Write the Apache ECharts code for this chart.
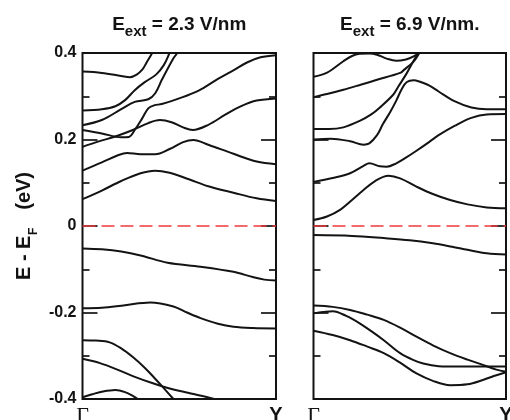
<!DOCTYPE html>
<html>
<head>
<meta charset="utf-8">
<script src="https://cdn.jsdelivr.net/npm/echarts@6/dist/echarts.min.js"></script>
<style>
html,body{margin:0;padding:0;background:#fff;}
#chart{width:510px;height:420px;}
</style>
</head>
<body>
<div id="chart"></div>
<script>
// ---- labels ----
const kPathLabels = ['Γ', 'Y'];
const yTickLabels = ['-0.4', '-0.2', '0', '0.2', '0.4'];
const panelFields = ['2.3 V/nm', '6.9 V/nm.'];
const yAxisTitle = ['E - E', 'F', '(eV)'];

// ---- panel 1 : E_ext = 2.3 V/nm  (k from Γ=0 to Y=1, energy in eV) ----
const p1_v5 = [[0,-0.396],[0.05,-0.389],[0.1,-0.383],[0.17,-0.379],[0.22,-0.384],[0.26,-0.393],[0.29,-0.402],[0.31,-0.41]];
const p1_v4 = [[0,-0.307],[0.09,-0.317],[0.18,-0.332],[0.26,-0.347],[0.36,-0.363],[0.47,-0.378],[0.55,-0.386],[0.62,-0.393],[0.68,-0.4],[0.72,-0.405]];
const p1_v3 = [[0,-0.264],[0.07,-0.265],[0.14,-0.269],[0.2,-0.283],[0.26,-0.303],[0.32,-0.327],[0.365,-0.348],[0.42,-0.375],[0.47,-0.4],[0.5,-0.415]];
const p1_v2 = [[0,-0.19],[0.1,-0.189],[0.22,-0.183],[0.35,-0.177],[0.47,-0.186],[0.54,-0.2],[0.61,-0.213],[0.7,-0.226],[0.78,-0.233],[0.88,-0.236],[1,-0.237]];
const p1_v1 = [[0,-0.052],[0.1,-0.054],[0.2,-0.059],[0.3,-0.068],[0.44,-0.085],[0.61,-0.094],[0.78,-0.106],[0.88,-0.118],[0.94,-0.124],[1,-0.126]];
const p1_c1 = [[0,0.062],[0.1,0.082],[0.2,0.104],[0.3,0.122],[0.375,0.128],[0.45,0.123],[0.55,0.108],[0.65,0.092],[0.78,0.077],[0.9,0.064],[1,0.058]];
const p1_c2 = [[0,0.128],[0.1,0.147],[0.18,0.163],[0.23,0.169],[0.3,0.166],[0.375,0.166],[0.45,0.178],[0.52,0.194],[0.573,0.199],[0.65,0.188],[0.78,0.167],[0.9,0.149],[1,0.143]];
const p1_c3 = [[0,0.183],[0.08,0.195],[0.17,0.207],[0.26,0.222],[0.34,0.238],[0.4,0.245],[0.46,0.24],[0.52,0.228],[0.57,0.222],[0.65,0.234],[0.74,0.258],[0.82,0.277],[0.9,0.29],[1,0.295]];
const p1_c4 = [[0,0.222],[0.1,0.214],[0.2,0.205],[0.24,0.206],[0.27,0.222],[0.31,0.25],[0.34,0.272],[0.37,0.279],[0.41,0.282],[0.5,0.295],[0.6,0.313],[0.7,0.34],[0.78,0.36],[0.85,0.378],[0.92,0.39],[1,0.395]];
const p1_c5 = [[0,0.233],[0.1,0.245],[0.2,0.27],[0.27,0.287],[0.34,0.293],[0.376,0.307],[0.41,0.338],[0.47,0.388],[0.49,0.4],[0.51,0.415]];
const p1_c6 = [[0,0.267],[0.1,0.27],[0.17,0.277],[0.22,0.291],[0.27,0.314],[0.32,0.332],[0.38,0.35],[0.42,0.372],[0.45,0.4],[0.47,0.42]];
const p1_c7 = [[0,0.357],[0.1,0.354],[0.2,0.347],[0.245,0.344],[0.28,0.35],[0.31,0.362],[0.33,0.377],[0.36,0.4],[0.38,0.42]];

// ---- panel 2 : E_ext = 6.9 V/nm ----
const p2_v4 = [[0,-0.242],[0.1,-0.252],[0.19,-0.264],[0.28,-0.279],[0.365,-0.294],[0.45,-0.316],[0.535,-0.341],[0.62,-0.358],[0.71,-0.368],[0.8,-0.366],[0.88,-0.356],[0.95,-0.345],[1,-0.338]];
const p2_v3 = [[0,-0.202],[0.05,-0.199],[0.1,-0.197],[0.17,-0.208],[0.24,-0.225],[0.3,-0.243],[0.365,-0.264],[0.45,-0.294],[0.52,-0.31],[0.57,-0.318],[0.65,-0.324],[0.75,-0.325],[0.87,-0.325],[1,-0.325]];
const p2_v2 = [[0,-0.184],[0.1,-0.187],[0.19,-0.194],[0.28,-0.205],[0.365,-0.217],[0.45,-0.235],[0.535,-0.256],[0.62,-0.276],[0.71,-0.294],[0.8,-0.309],[0.88,-0.321],[0.95,-0.332],[1,-0.337]];
const p2_v1 = [[0,-0.021],[0.2,-0.023],[0.365,-0.028],[0.5,-0.033],[0.62,-0.04],[0.72,-0.048],[0.8,-0.055],[0.9,-0.063],[1,-0.066]];
const p2_c1 = [[0,0.014],[0.07,0.022],[0.14,0.038],[0.2,0.06],[0.26,0.083],[0.32,0.104],[0.39,0.116],[0.45,0.11],[0.535,0.091],[0.62,0.074],[0.71,0.06],[0.8,0.05],[0.9,0.043],[1,0.041]];
const p2_c2 = [[0,0.102],[0.1,0.111],[0.19,0.122],[0.26,0.139],[0.29,0.145],[0.345,0.138],[0.38,0.137],[0.43,0.145],[0.48,0.158],[0.535,0.174],[0.6,0.194],[0.65,0.21],[0.735,0.232],[0.82,0.25],[0.9,0.258],[1,0.259]];
const p2_c3 = [[0,0.2],[0.09,0.202],[0.19,0.196],[0.26,0.188],[0.29,0.191],[0.33,0.21],[0.36,0.235],[0.4,0.265],[0.43,0.29],[0.46,0.318],[0.485,0.333],[0.52,0.337],[0.55,0.334],[0.6,0.325],[0.65,0.311],[0.735,0.288],[0.82,0.274],[0.9,0.27],[1,0.27]];
const p2_c4 = [[0,0.224],[0.08,0.224],[0.155,0.228],[0.24,0.243],[0.3,0.258],[0.345,0.274],[0.415,0.304],[0.44,0.322],[0.48,0.35],[0.52,0.382],[0.55,0.405],[0.56,0.413]];
const p2_c5 = [[0,0.298],[0.07,0.305],[0.155,0.315],[0.24,0.326],[0.33,0.338],[0.45,0.354],[0.47,0.361],[0.52,0.38],[0.55,0.4],[0.57,0.415]];
const p2_c6 = [[0,0.345],[0.068,0.354],[0.155,0.381],[0.2,0.393],[0.24,0.398],[0.29,0.399],[0.33,0.396],[0.38,0.387],[0.43,0.382],[0.48,0.385],[0.52,0.392],[0.555,0.402],[0.57,0.41]];

// Fermi level
const fermiLevel = [[0,0],[1,0]];

const panel1Bands = [p1_v5,p1_v4,p1_v3,p1_v2,p1_v1,p1_c1,p1_c2,p1_c3,p1_c4,p1_c5,p1_c6,p1_c7];
const panel2Bands = [p2_v4,p2_v3,p2_v2,p2_v1,p2_c1,p2_c2,p2_c3,p2_c4,p2_c5,p2_c6];

// ---- chart ----
const FONT = '"Liberation Sans", Arial, Helvetica, sans-serif';
const INK = '#131313';
const MID = 0.28; // canvas 'middle' -> alphabetic baseline offset (em)
const chart = echarts.init(document.getElementById('chart'), null, {renderer: 'canvas'});

const grids = [
  {left: 82.5, top: 53, width: 193.5, height: 346},
  {left: 313.5, top: 53, width: 192.5, height: 346}
];

const measureCtx = document.createElement('canvas').getContext('2d');
function textW(t, size) {
  measureCtx.font = 'bold ' + size + 'px ' + FONT;
  return measureCtx.measureText(t).width;
}
function textEl(t, size, x, baseline) {
  return {
    type: 'text', x: x, y: baseline - MID * size,
    style: {text: t, fontSize: size, fontWeight: 'bold', fontFamily: FONT, fill: INK,
            align: 'left', textAlign: 'left', verticalAlign: 'middle', textVerticalAlign: 'middle'}
  };
}
function titleRow(field, cx, base) {
  const pieces = [
    {t: 'E', s: 19, dy: 0},
    {t: 'ext', s: 15, dy: 6.4},
    {t: ' = ' + field, s: 19, dy: 0}
  ];
  const total = pieces.reduce((a, p) => a + textW(p.t, p.s), 0);
  let x = cx - total / 2;
  const els = [];
  pieces.forEach(p => { els.push(textEl(p.t, p.s, x, base + p.dy)); x += textW(p.t, p.s); });
  return els;
}

const graphics = [];
grids.forEach((g, i) => {
  titleRow(panelFields[i], g.left + g.width / 2, 29.6).forEach(e => graphics.push(e));
});
// rotated y-axis title
(function () {
  const half = 54;
  const children = [];
  let x = -half;
  children.push(textEl(yAxisTitle[0], 20, x, 0));
  x += textW(yAxisTitle[0], 20);
  children.push(textEl(yAxisTitle[1], 12, x + 0.5, 6.5));
  const w3 = textW(yAxisTitle[2], 20);
  children.push(textEl(yAxisTitle[2], 20, half - w3, 0));
  graphics.push({type: 'group', x: 30.5, y: 226, rotation: Math.PI / 2, children: children});
})();

const xAxes = grids.map((g, i) => ({
  gridIndex: i, type: 'value', min: 0, max: 1, interval: 1,
  axisLine: {show: false}, axisTick: {show: false}, splitLine: {show: false},
  axisLabel: {
    show: true, margin: 6, showMinLabel: true, showMaxLabel: true, hideOverlap: false,
    formatter: v => v < 0.5 ? '{g|' + kPathLabels[0] + '}' : '{y|' + kPathLabels[1] + '}',
    rich: {
      g: {fontFamily: '"Liberation Serif", "DejaVu Serif", serif', fontSize: 22, color: INK},
      y: {fontFamily: FONT, fontWeight: 'bold', fontSize: 20, color: INK}
    }
  }
}));

function yAx(gi, pos, labels) {
  return {
    gridIndex: gi, type: 'value', min: -0.4, max: 0.4, interval: 0.2, position: pos,
    axisLine: {show: false}, splitLine: {show: false},
    axisTick: {show: true, inside: true, length: 15, lineStyle: {color: INK, width: 1.7}},
    minorTick: {show: true, splitNumber: 2, length: 7, lineStyle: {color: INK, width: 1.7}},
    axisLabel: {
      show: labels, margin: 6, color: INK, fontFamily: FONT, fontWeight: 'bold', fontSize: 16,
      formatter: v => yTickLabels[Math.round((v + 0.4) / 0.2)]
    }
  };
}
const yAxes = [yAx(0, 'left', true), yAx(0, 'right', false), yAx(1, 'left', false), yAx(1, 'right', false)];

const series = [];
function addBands(bands, gi) {
  bands.forEach((b) => {
    series.push({
      type: 'line', xAxisIndex: gi, yAxisIndex: gi * 2, data: b,
      showSymbol: false, symbol: 'none', smooth: 0.35, clip: true, silent: true,
      lineStyle: {color: INK, width: 2}, z: 3
    });
  });
  series.push({
    type: 'line', xAxisIndex: gi, yAxisIndex: gi * 2, data: fermiLevel,
    showSymbol: false, symbol: 'none', silent: true, z: 4,
    lineStyle: {color: '#f03a3a', width: 1.7, type: [13, 6]}
  });
}
addBands(panel1Bands, 0);
addBands(panel2Bands, 1);

chart.setOption({
  animation: false,
  backgroundColor: '#ffffff',
  grid: grids.map(g => Object.assign({show: true, borderColor: INK, borderWidth: 2, backgroundColor: 'transparent',
                                      containLabel: false, outerBoundsMode: 'none'}, g)),
  xAxis: xAxes,
  yAxis: yAxes,
  graphic: graphics,
  series: series
});
</script>
</body>
</html>
